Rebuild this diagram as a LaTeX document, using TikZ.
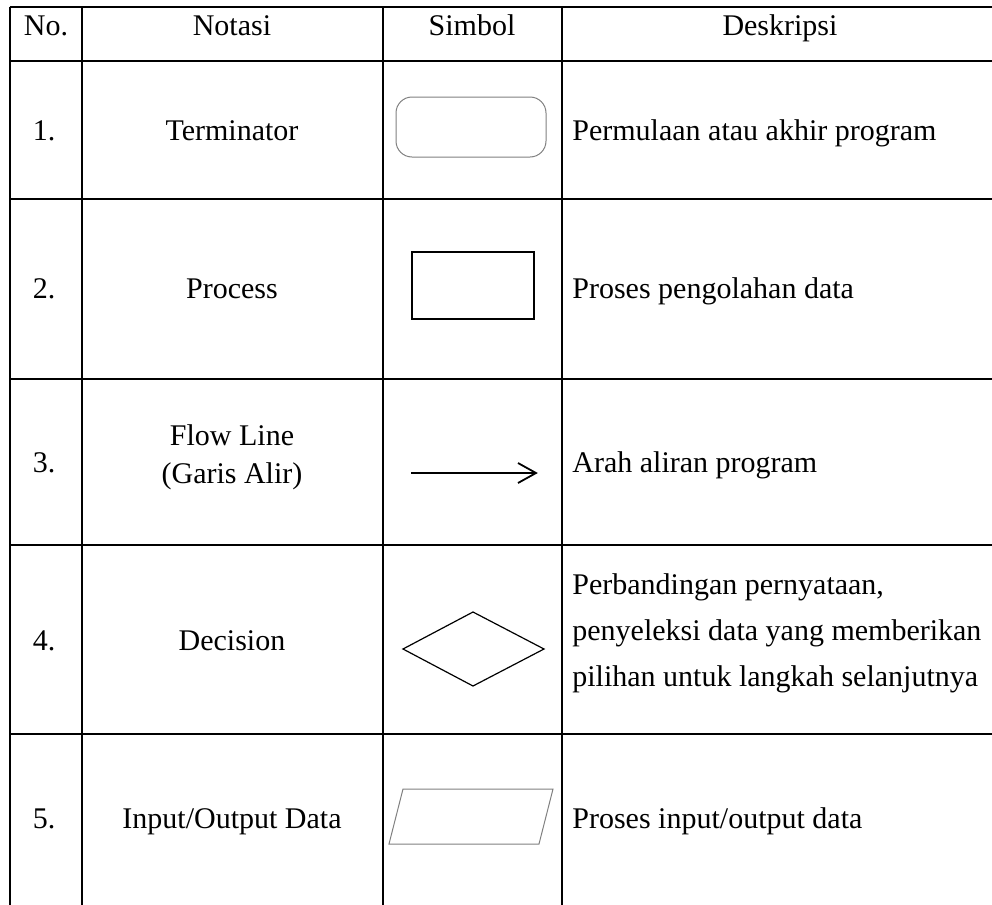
\documentclass[tikz,border=0pt]{standalone}
\usepackage{fontspec}
\setmainfont{Liberation Serif}
\begin{document}
\begin{tikzpicture}[x=0.5pt,y=-0.5pt,
  tbl/.style={line width=1pt},
  txt/.style={inner sep=0pt,anchor=base,font=\fontsize{15}{18}\selectfont},
  ltxt/.style={txt,anchor=base west},
  graysym/.style={draw=gray,line width=0.5pt},
  blacksym/.style={draw=black,line width=0.6pt}]
\useasboundingbox (0,0) rectangle (992,905);
% horizontal rules
\foreach \y in {7,61,199,379,545,734}{\draw[tbl] (9.5,\y) -- (992,\y);}
% vertical rules
\foreach \x in {10,82,383,562}{\draw[tbl] (\x,6.5) -- (\x,905);}
% header
\node[txt] (hno) at (46,35) {No.};
\node[txt] (hnot) at (232,35) {Notasi};
\node[txt] (hsim) at (472,35) {Simbol};
\node[txt] (hdes) at (780,35) {Deskripsi};
% row 1
\node[txt] (n1) at (44,140) {1.};
\node[txt] (t1) at (232,140) {Terminator};
\node[ltxt] (d1) at (572,140) {Permulaan atau akhir program};
\draw[graysym,rounded corners=8pt] (396,97) rectangle (546,157);
% row 2
\node[txt] (n2) at (44,298) {2.};
\node[txt] (t2) at (232,298) {Process};
\node[ltxt] (d2) at (572,298) {Proses pengolahan data};
\draw[line width=1pt] (412,252) rectangle (534,319);
% row 3
\node[txt] (n3) at (44,472) {3.};
\node[txt] (t3a) at (232,445) {Flow Line};
\node[txt] (t3b) at (232,483) {(Garis Alir)};
\node[ltxt] (d3) at (572,472) {Arah aliran program};
\coordinate (a1) at (411,473);
\coordinate (a2) at (536,473);
\draw[line width=0.9pt] (a1) -- (a2);
\draw[line width=0.9pt] (518,463) -- (a2) -- (518,483);
% row 4
\node[txt] (n4) at (44,650) {4.};
\node[txt] (t4) at (232,650) {Decision};
\node[ltxt] (d4a) at (572,594) {Perbandingan pernyataan,};
\node[ltxt] (d4b) at (572,640) {penyeleksi data yang memberikan};
\node[ltxt] (d4c) at (572,686) {pilihan untuk langkah selanjutnya};
\draw[blacksym] (403,649) -- (473,612) -- (544,649) -- (473,686) -- cycle;
% row 5
\node[txt] (n5) at (44,828) {5.};
\node[txt] (t5) at (232,828) {Input/Output Data};
\node[ltxt] (d5) at (572,828) {Proses input/output data};
\draw[graysym] (403,789) -- (553,789) -- (539,844) -- (389,844) -- cycle;
\end{tikzpicture}
\end{document}
